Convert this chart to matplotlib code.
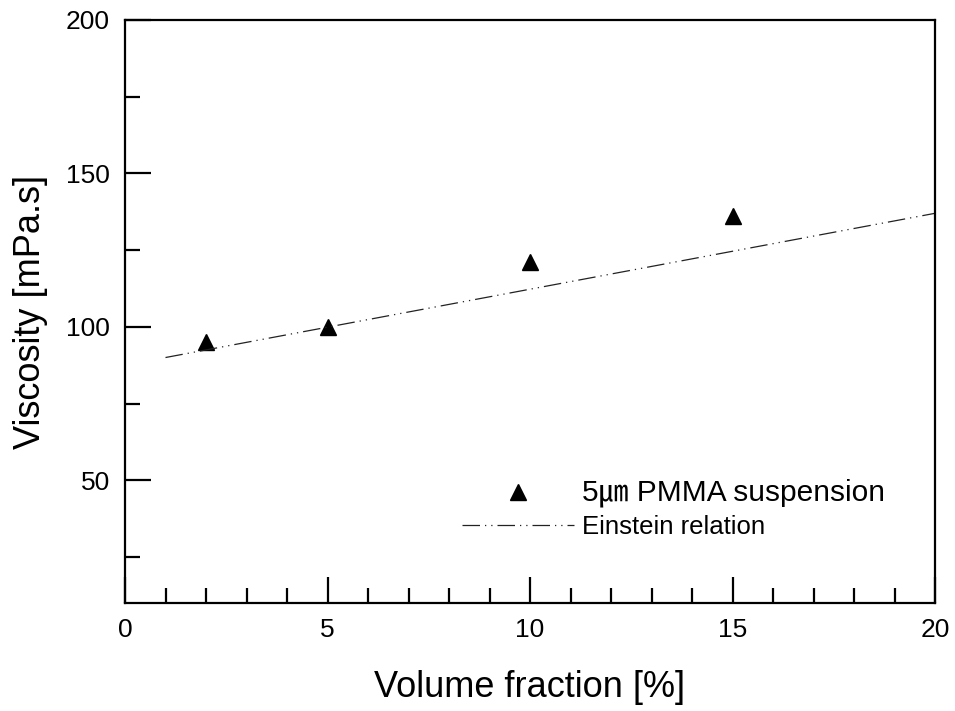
import matplotlib
matplotlib.use("Agg")
from matplotlib import pyplot as plt
from matplotlib.ticker import MultipleLocator

# measured viscosity of the 5 um PMMA suspension
frac = [2, 5, 10, 15]
visc = [95, 100, 121, 136]

# Einstein relation line (end points)
ein_frac = [1, 20]
ein_visc = [90, 137]

plt.rcParams['font.family'] = ['Liberation Sans', 'Noto Sans CJK KR', 'DejaVu Sans']

fig = plt.figure(figsize=(9.55, 7.11), dpi=100)
ax = fig.add_axes([125/955, 1-603/711, 810/955, 583/711])

ax.plot(frac, visc, linestyle='none', marker='^', markersize=12,
        color='black', label='5\u339b PMMA suspension')
ax.plot(ein_frac, ein_visc, color='#222222', linewidth=0.9,
        dashes=(14, 4, 1, 4, 1, 4), label='Einstein relation')

ax.set_xlim(0, 20)
ax.set_ylim(10, 200)
ax.xaxis.set_major_locator(MultipleLocator(5))
ax.xaxis.set_minor_locator(MultipleLocator(1))
ax.yaxis.set_major_locator(MultipleLocator(50))
ax.yaxis.set_minor_locator(MultipleLocator(25))
ax.set_yticks([50, 100, 150, 200])

for s in ax.spines.values():
    s.set_linewidth(1.6)
ax.tick_params(which='both', direction='in', top=False, right=False, width=1.6)
ax.tick_params(which='major', length=19, labelsize=19, pad=11)
ax.tick_params(which='minor', length=11)

ax.set_xlabel('Volume fraction [%]', fontsize=26, labelpad=20)
ax.set_ylabel('Viscosity [mPa.s]', fontsize=26, labelpad=13)

leg = ax.legend(loc='upper left', bbox_to_anchor=(0.388, 0.252), frameon=False,
                fontsize=18, handlelength=4.5, handletextpad=0.3, labelspacing=0.3)
texts = leg.get_texts()
texts[0].set_fontsize(21.5)
texts[1].set_fontsize(18.5)

fig.savefig('out.png', dpi=100)
